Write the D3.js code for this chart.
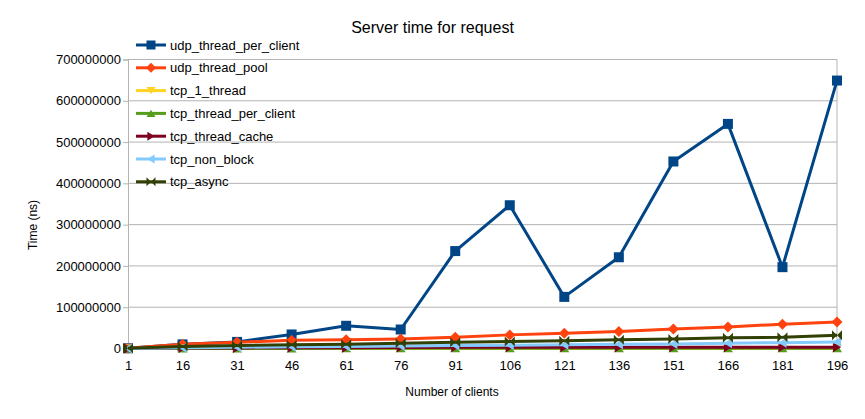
<!DOCTYPE html>
<html><head><meta charset="utf-8">
<script src="https://cdn.jsdelivr.net/npm/d3@7"></script>
<style>body{margin:0;background:#fff}svg{display:block;font-family:"Liberation Sans",Arial,sans-serif}</style>
</head><body><svg id="c" width="865" height="419"></svg>
<script>
const categories = [1,16,31,46,61,76,91,106,121,136,151,166,181,196];
const udp_thread_per_client = [500000,10000000,16000000,34000000,55000000,46000000,236000000,347000000,125000000,221000000,453000000,544000000,197000000,649000000];
const udp_thread_pool = [500000,10000000,15000000,20000000,21000000,23000000,27000000,33000000,37000000,41000000,47000000,52000000,59000000,64000000];
const tcp_1_thread = [100000,100000,100000,100000,100000,100000,100000,100000,100000,100000,100000,100000,100000,100000];
const tcp_thread_per_client = [200000,300000,300000,300000,400000,400000,400000,400000,400000,400000,400000,400000,400000,400000];
const tcp_thread_cache = [300000,1000000,1500000,2000000,2000000,2500000,3000000,3000000,3000000,3000000,3000000,3000000,3000000,3000000];
const tcp_non_block = [300000,2000000,3000000,4000000,5000000,6000000,7000000,8000000,9000000,10000000,11000000,13000000,14000000,16000000];
const tcp_async = [400000,5000000,7000000,9000000,10000000,13000000,15000000,17000000,19000000,21000000,23000000,26000000,27000000,32000000];
const yTicks = [0,100000000,200000000,300000000,400000000,500000000,600000000,700000000];
const seriesNames = ["udp_thread_per_client","udp_thread_pool","tcp_1_thread","tcp_thread_per_client","tcp_thread_cache","tcp_non_block","tcp_async"];
const seriesValues = [udp_thread_per_client,udp_thread_pool,tcp_1_thread,tcp_thread_per_client,tcp_thread_cache,tcp_non_block,tcp_async];
const colors = ["#004586","#ff420e","#ffd320","#579d1c","#7e0021","#83caff","#314004"];
const markers = ["square","diamond","tridown","triup","triright","trileft","bowtie"];

const svg = d3.select("#c");
const L=128, R=837, T=59.5, B=348.5;
const x = d3.scalePoint().domain(categories).range([L,R]).padding(0);
const y = d3.scaleLinear().domain([0,700000000]).range([B,T]);

// gridlines
svg.append("g").selectAll("line").data(yTicks).join("line")
  .attr("x1",L).attr("x2",R).attr("y1",d=>y(d)).attr("y2",d=>y(d))
  .attr("stroke","#b3b3b3").attr("stroke-width",1);
// right border
svg.append("line").attr("x1",R).attr("x2",R).attr("y1",T).attr("y2",B).attr("stroke","#b3b3b3");

// y axis
const ya = svg.append("g").attr("transform",`translate(${L},0)`)
  .call(d3.axisLeft(y).tickValues(yTicks).tickFormat(d3.format("d")).tickSizeOuter(0).tickSize(5).tickPadding(2));
ya.select(".domain").attr("stroke","#b3b3b3");
ya.selectAll(".tick line").attr("stroke","#b3b3b3");
ya.selectAll("text").attr("font-size",13).attr("fill","#000").attr("font-family","Liberation Sans, Arial, sans-serif");

// x axis
const xa = svg.append("g").attr("transform",`translate(0,${B})`)
  .call(d3.axisBottom(x).tickSize(0).tickPadding(12));
xa.select(".domain").attr("stroke","#b3b3b3");
xa.selectAll("text").attr("font-size",13).attr("fill","#000").attr("font-family","Liberation Sans, Arial, sans-serif");

function sym(type, size){
  const s=size/2;
  switch(type){
    case "square": return `M${-s},${-s}H${s}V${s}H${-s}Z`;
    case "diamond": return `M0,${-s-0.5}L${s+0.5},0L0,${s+0.5}L${-s-0.5},0Z`;
    case "tridown": return `M${-s},${-s*0.8}H${s}L0,${s*0.8}Z`;
    case "triup": return `M${-s},${s*0.8}H${s}L0,${-s*0.8}Z`;
    case "triright": return `M${-s*0.8},${-s}V${s}L${s*0.8},0Z`;
    case "trileft": return `M${s*0.8},${-s}V${s}L${-s*0.8},0Z`;
    case "bowtie": return `M${-s},${-s}L${s},${s}V${-s}L${-s},${s}Z`;
  }
}

const line = d3.line().x((d,i)=>x(categories[i])).y(d=>y(d));
seriesValues.forEach((vals,k)=>{
  const g = svg.append("g");
  g.append("path").datum(vals).attr("d",line).attr("fill","none")
    .attr("stroke",colors[k]).attr("stroke-width",3).attr("stroke-linejoin","round");
  g.selectAll("path.m").data(vals).join("path").attr("class","m")
    .attr("transform",(d,i)=>`translate(${x(categories[i])},${y(d)})`)
    .attr("d",sym(markers[k],10)).attr("fill",colors[k]);
});

// legend
const lg = svg.append("g");
seriesNames.forEach((n,k)=>{
  const cy = 45 + k*22.8;
  lg.append("line").attr("x1",136).attr("x2",166).attr("y1",cy).attr("y2",cy)
    .attr("stroke",colors[k]).attr("stroke-width",3);
  lg.append("path").attr("transform",`translate(151,${cy})`).attr("d",sym(markers[k],9)).attr("fill",colors[k]);
  lg.append("text").attr("x",170).attr("y",cy).attr("dy","0.35em").attr("font-size",13).text(n);
});

// titles
svg.append("text").attr("x",432.5).attr("y",33).attr("text-anchor","middle").attr("font-size",16).text("Server time for request");
svg.append("text").attr("x",452).attr("y",396).attr("text-anchor","middle").attr("font-size",12).text("Number of clients");
svg.append("text").attr("transform","translate(37,225) rotate(-90)").attr("text-anchor","middle").attr("font-size",12).text("Time (ns)");
</script></body></html>
